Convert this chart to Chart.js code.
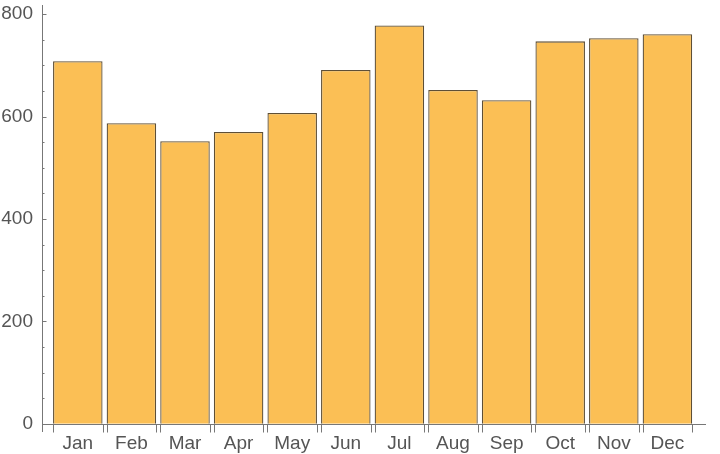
<!DOCTYPE html>
<html>
<head>
<meta charset="utf-8">
<script src="https://cdn.jsdelivr.net/npm/chart.js@4.4.1/dist/chart.umd.min.js"></script>
<style>
  html, body { margin: 0; padding: 0; background: #fff; }
</style>
</head>
<body>
<canvas id="c" width="720" height="454"></canvas>
<script>
const months = ['Jan', 'Feb', 'Mar', 'Apr', 'May', 'Jun', 'Jul', 'Aug', 'Sep', 'Oct', 'Nov', 'Dec'];
const values = [708, 587, 552, 570, 607, 691, 778, 652, 632, 747, 753, 761];
const yTicks = [0, 200, 400, 600, 800];

const barFrac = 0.924;
const axisColor = '#777777';

// Mathematica-like axes: y axis with minor ticks, x axis at 0 with ticks at bar edges
const axesPlugin = {
  id: 'axes',
  afterDraw(chart) {
    const ctx = chart.ctx;
    const xs = chart.scales.x, ys = chart.scales.y;
    const area = chart.chartArea;
    const x0 = Math.round(area.left) + 0.5;
    const y0 = Math.round(ys.getPixelForValue(0)) + 0.5;
    ctx.save();
    ctx.strokeStyle = axisColor;
    ctx.lineWidth = 1;
    ctx.beginPath();
    ctx.moveTo(x0, area.top);
    ctx.lineTo(x0, area.bottom);
    ctx.moveTo(area.left, y0);
    ctx.lineTo(area.right, y0);
    for (let v = 0; v <= 800; v += 50) {
      const py = Math.round(ys.getPixelForValue(v)) + 0.5;
      const len = v % 200 === 0 ? 4 : 2;
      ctx.moveTo(x0, py);
      ctx.lineTo(x0 + len, py);
    }
    months.forEach((m, i) => {
      [i - barFrac / 2, i + barFrac / 2].forEach(e => {
        const px = Math.round(xs.getPixelForValue(e)) + 0.5;
        ctx.moveTo(px, y0);
        ctx.lineTo(px, y0 + 8);
      });
    });
    ctx.stroke();
    ctx.restore();
  }
};

new Chart(document.getElementById('c'), {
  type: 'bar',
  data: {
    datasets: [{
      data: values.map((v, i) => ({ x: i, y: v })),
      backgroundColor: '#fbbf55',
      borderColor: '#5e4f36',
      borderWidth: 1.3,
      barPercentage: barFrac,
      categoryPercentage: 1
    }]
  },
  options: {
    responsive: false,
    animation: false,
    devicePixelRatio: 1,
    layout: { padding: { top: 5, right: 14, left: 0, bottom: 0 } },
    plugins: { legend: { display: false }, tooltip: { enabled: false } },
    scales: {
      x: {
        type: 'linear',
        offset: false,
        min: -0.668,
        max: 11.72,
        afterBuildTicks: s => { s.ticks = months.map((m, i) => ({ value: i })); },
        afterFit: s => { s.height = 22; s.paddingLeft = 0; s.paddingRight = 0; },
        grid: { display: false, drawTicks: false },
        border: { display: false },
        ticks: {
          autoSkip: false,
          maxRotation: 0,
          padding: 0,
          color: '#555555',
          font: { family: 'Liberation Sans', size: 19 },
          callback: v => months[v]
        }
      },
      y: {
        min: -16,
        max: 818,
        afterBuildTicks: s => { s.ticks = yTicks.map(v => ({ value: v })); },
        afterFit: s => { s.width = 42; s.paddingTop = 0; s.paddingBottom = 0; },
        grid: { display: false, drawTicks: false },
        border: { display: false },
        ticks: {
          padding: 9,
          color: '#555555',
          font: { family: 'Liberation Sans', size: 19 }
        }
      }
    }
  },
  plugins: [axesPlugin]
});
</script>
</body>
</html>
